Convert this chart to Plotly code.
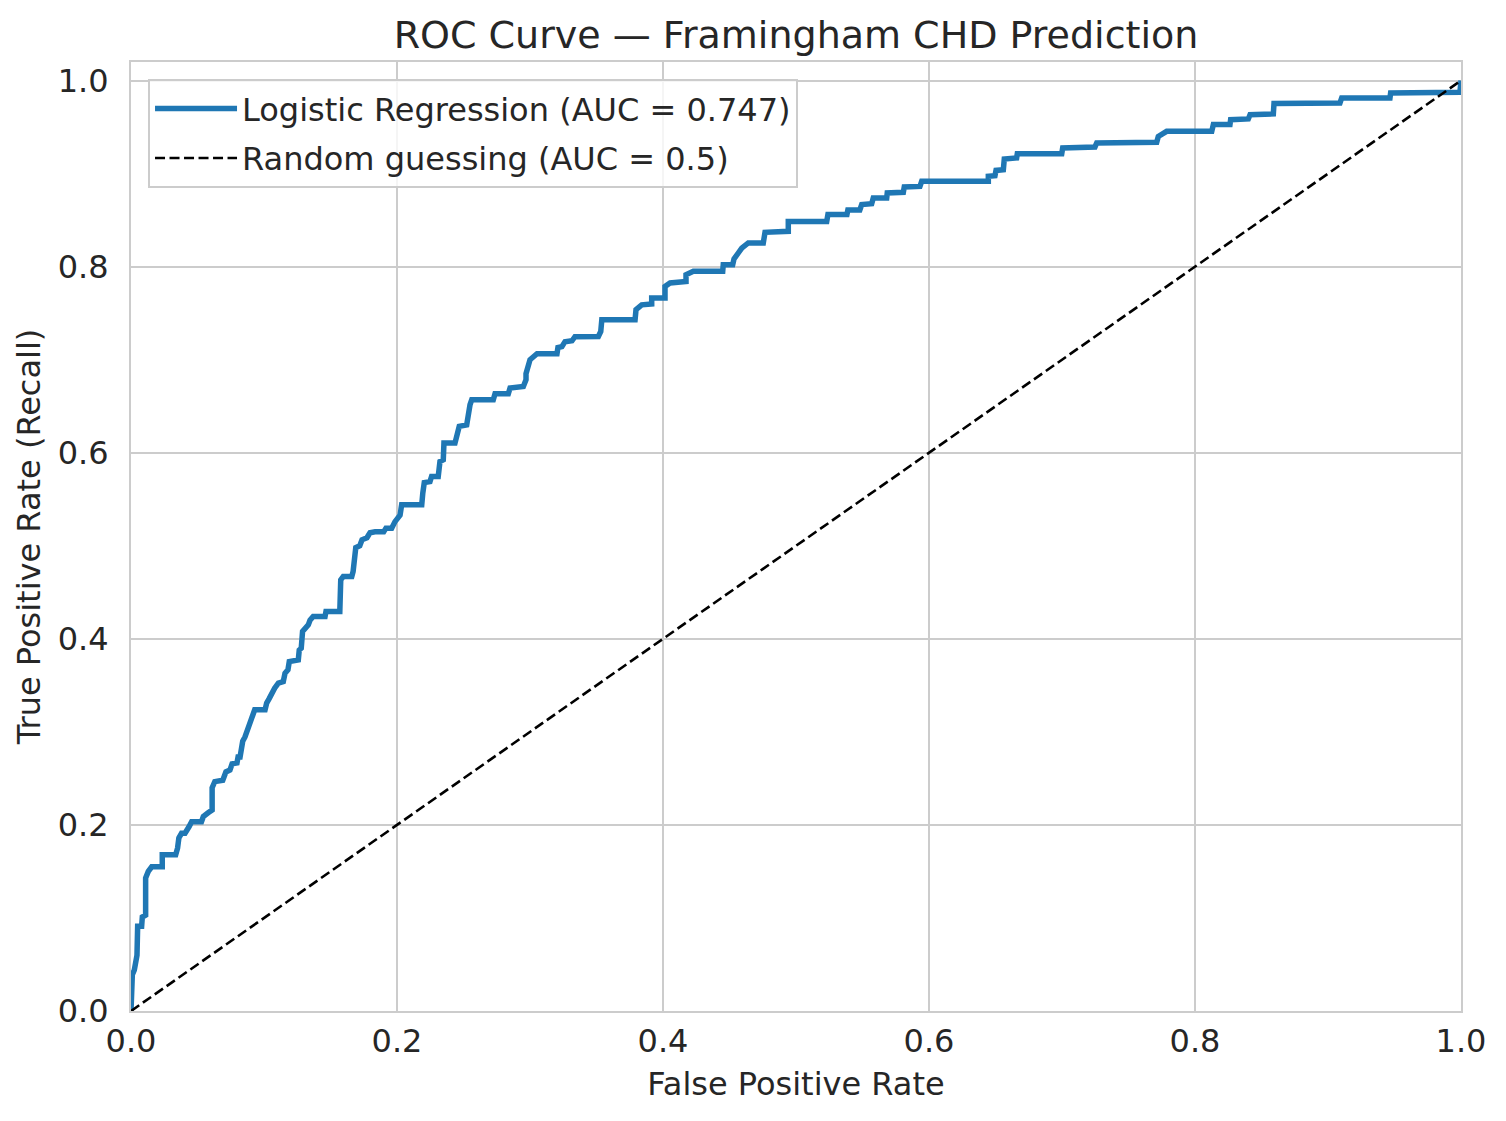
import plotly.graph_objects as go

# ROC curve points (False Positive Rate, True Positive Rate)
fpr = [0.0, 0.0, 0.001, 0.0025, 0.0045, 0.005, 0.008, 0.0085, 0.011, 0.011, 0.013, 0.0156,
       0.0235, 0.0235, 0.0336, 0.035, 0.036, 0.038, 0.0406, 0.0436, 0.0456, 0.053, 0.0544,
       0.058, 0.061, 0.061, 0.063, 0.069, 0.0714, 0.0744, 0.076, 0.0797, 0.0805, 0.082,
       0.0827, 0.084, 0.0857, 0.087, 0.0887, 0.092, 0.093, 0.1008, 0.102, 0.104, 0.1058,
       0.108, 0.1108, 0.1145, 0.1158, 0.118, 0.119, 0.1258, 0.1265, 0.128, 0.129, 0.131,
       0.1333, 0.1346, 0.137, 0.1459, 0.1466, 0.157, 0.1577, 0.1596, 0.166, 0.167, 0.1684,
       0.169, 0.172, 0.1737, 0.1774, 0.1797, 0.1835, 0.190, 0.1917, 0.196, 0.1985, 0.2008,
       0.2023, 0.2035, 0.2186, 0.2194, 0.2205, 0.2248, 0.226, 0.231, 0.2323, 0.2348, 0.2353,
       0.2436, 0.2449, 0.2468, 0.2524, 0.2536, 0.2549, 0.2562, 0.2724, 0.2737, 0.2837, 0.285,
       0.295, 0.297, 0.297, 0.300, 0.3053, 0.3203, 0.321, 0.324, 0.3263, 0.3316, 0.3338,
       0.3514, 0.3532, 0.354, 0.379, 0.3797, 0.384, 0.3915, 0.3915, 0.4015, 0.4015, 0.4053,
       0.4173, 0.4173, 0.4228, 0.4449, 0.4453, 0.4524, 0.4534, 0.4566, 0.4592, 0.4641,
       0.4754, 0.4767, 0.4942, 0.4942, 0.5231, 0.524, 0.5383, 0.539, 0.548, 0.5494, 0.5569,
       0.5581, 0.5682, 0.5686, 0.5807, 0.5814, 0.5932, 0.5945, 0.6446, 0.6446, 0.6496,
       0.6504, 0.6559, 0.6566, 0.6659, 0.6664, 0.6998, 0.7005, 0.7248, 0.7261, 0.7712,
       0.7724, 0.7787, 0.8126, 0.8138, 0.8263, 0.8268, 0.8401, 0.8414, 0.8589, 0.8594,
       0.909, 0.9103, 0.9466, 0.9471, 0.9992, 1.0]
tpr = [0.0, 0.03, 0.039, 0.044, 0.060, 0.091, 0.091, 0.101, 0.103, 0.143, 0.150, 0.155,
       0.155, 0.168, 0.168, 0.175, 0.186, 0.191, 0.191, 0.198, 0.2035, 0.2035, 0.209,
       0.213, 0.216, 0.240, 0.2465, 0.248, 0.257, 0.259, 0.2656, 0.2667, 0.273, 0.273,
       0.283, 0.290, 0.2946, 0.300, 0.303, 0.318, 0.3237, 0.3237, 0.331, 0.336, 0.3416,
       0.347, 0.3524, 0.354, 0.363, 0.3667, 0.3756, 0.3774, 0.388, 0.390, 0.408, 0.4115,
       0.415, 0.420, 0.424, 0.424, 0.4294, 0.4294, 0.4634, 0.467, 0.467, 0.4724, 0.485,
       0.498, 0.500, 0.5065, 0.5086, 0.514, 0.515, 0.515, 0.519, 0.519, 0.526, 0.530,
       0.533, 0.544, 0.544, 0.5567, 0.568, 0.569, 0.5745, 0.5745, 0.5906, 0.5925, 0.6104,
       0.6104, 0.6175, 0.6283, 0.630, 0.6427, 0.6516, 0.657, 0.657, 0.6634, 0.6634, 0.6696,
       0.6713, 0.6785, 0.685, 0.700, 0.7065, 0.7065, 0.713, 0.714, 0.7194, 0.7204, 0.7247,
       0.725, 0.7304, 0.743, 0.743, 0.7538, 0.759, 0.760, 0.7663, 0.7663, 0.7788, 0.7825,
       0.7842, 0.7914, 0.795, 0.795, 0.8022, 0.8022, 0.8083, 0.8147, 0.820, 0.8255,
       0.8255, 0.8369, 0.838, 0.8487, 0.8487, 0.856, 0.856, 0.861, 0.861, 0.8667, 0.8677,
       0.8739, 0.8739, 0.8793, 0.880, 0.8857, 0.8863, 0.8917, 0.8917, 0.8971, 0.8978,
       0.9035, 0.9043, 0.9158, 0.9169, 0.9215, 0.9215, 0.9276, 0.9287, 0.933, 0.9337,
       0.940, 0.9455, 0.9455, 0.9527, 0.9527, 0.958, 0.9588, 0.9634, 0.9642, 0.9753,
       0.976, 0.9814, 0.9814, 0.9868, 0.9874, 1.0]

diag = [0.0, 1.0]
tick_vals = [0.0, 0.2, 0.4, 0.6, 0.8, 1.0]
tick_text = ["0.0", "0.2", "0.4", "0.6", "0.8", "1.0"]

auc_model = 0.747
auc_random = 0.5

TEXT = "#262626"
GRID = "#cccccc"
FONT = "DejaVu Sans"

W, H = 1490, 1105

fig = go.Figure()
fig.add_trace(go.Scatter(
    x=fpr, y=tpr, mode="lines", legendgroup="model",
    line=dict(color="#1f77b4", width=5.5),
    name=f"Logistic Regression (AUC = {auc_model})",
))
fig.add_trace(go.Scatter(
    x=diag, y=diag, mode="lines", legendgroup="random",
    line=dict(color="black", width=2.6, dash="10px,4.5px"),
    name=f"Random guessing (AUC = {auc_random})",
))

fig.update_layout(
    width=W, height=H,
    margin=dict(l=123, r=37, t=54, b=102),
    paper_bgcolor="white", plot_bgcolor="white",
    font=dict(family=FONT, color=TEXT, size=32),
    title=dict(text="ROC Curve — Framingham CHD Prediction",
               x=(796 - 8) / W, xanchor="center", y=1 - 27 / H, yanchor="middle",
               yref="container", font=dict(size=38, color=TEXT, family=FONT)),
    legend=dict(x=0.0128, y=0.982, xanchor="left", yanchor="top",
                bgcolor="rgba(255,255,255,0.8)", bordercolor=GRID, borderwidth=2,
                font=dict(size=32, color=TEXT, family=FONT),
                itemwidth=82, tracegroupgap=5),
    showlegend=True,
)
fig.update_xaxes(
    range=[0, 1], tickvals=tick_vals, ticktext=tick_text,
    showgrid=True, gridcolor=GRID, gridwidth=2,
    showline=True, linecolor=GRID, linewidth=2, mirror=True,
    zeroline=False, ticks="", ticklabelstandoff=1,
    tickfont=dict(size=32, color=TEXT, family=FONT),
    title=dict(text="False Positive Rate", font=dict(size=32, color=TEXT, family=FONT), standoff=13),
)
fig.update_yaxes(
    range=[0, 1.02], tickvals=tick_vals, ticktext=tick_text,
    showgrid=True, gridcolor=GRID, gridwidth=2,
    showline=True, linecolor=GRID, linewidth=2, mirror=True,
    zeroline=False, ticks="", ticklabelstandoff=14,
    tickfont=dict(size=32, color=TEXT, family=FONT),
    title=dict(text="True Positive Rate (Recall)", font=dict(size=32, color=TEXT, family=FONT), standoff=8),
)

fig.write_html("out.html")
